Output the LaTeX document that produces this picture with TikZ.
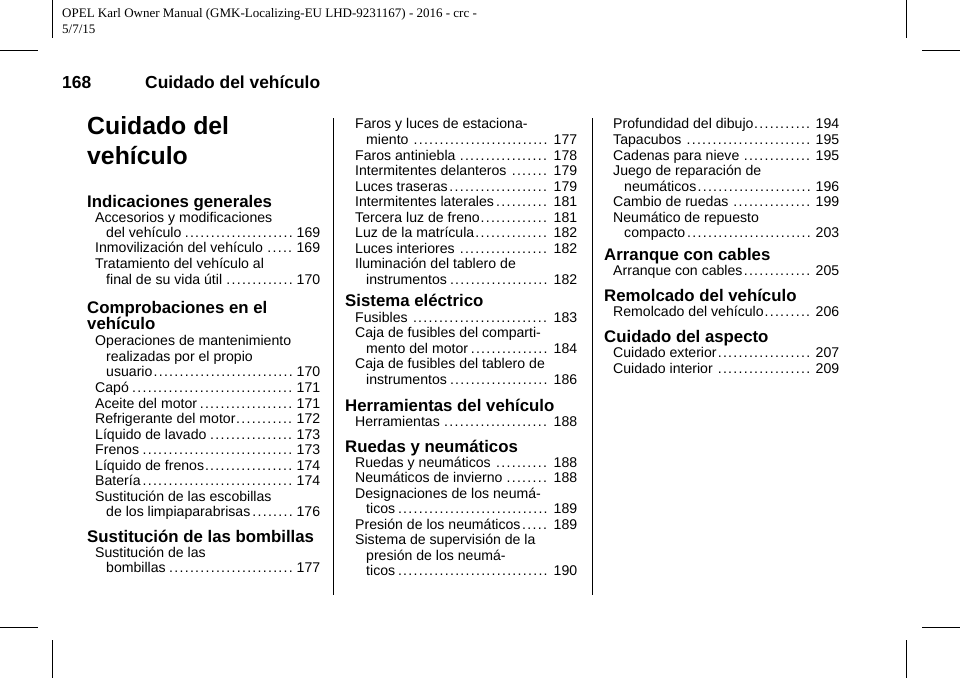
\documentclass[tikz,border=0pt]{standalone}
\usepackage{fontspec}
\setmainfont{Liberation Sans}
\newfontfamily\hdrfont{Liberation Serif}
\newcommand\tocdots{\leaders\hbox to 5.2pt{\hss.\hss}\hfill}
% one row: width, text, page
\newcommand\tocrow[3]{\edef\tocpg{#3}\hbox to #1pt{#2\ifx\tocpg\empty\hfill\else\tocdots\,\tocpg\fi}}
\tikzset{
  row/.style={anchor=base west, inner sep=0pt, font=\fontsize{14.1}{16}\selectfont},
  head/.style={anchor=base west, inner sep=0pt, font=\fontsize{16.8}{18}\selectfont\bfseries},
  crop/.style={line width=0.6pt}
}
\begin{document}
\begin{tikzpicture}[x=1pt,y=-1pt]
\useasboundingbox (0,0) rectangle (960,678);
% crop marks
\draw[crop] (52,0) -- (52,38) (0,50) -- (38,50);
\draw[crop] (906,0) -- (906,38) (922,50) -- (960,50);
\draw[crop] (52,640) -- (52,678) (0,627) -- (38,627);
\draw[crop] (906,640) -- (906,678) (922,627) -- (960,627);
% header
\node[anchor=base west, inner sep=0pt, font=\hdrfont\fontsize{13}{15}\selectfont] (hdra) at (62,17) {OPEL Karl Owner Manual (GMK-Localizing-EU LHD-9231167) - 2016 - crc -};
\node[anchor=base west, inner sep=0pt, font=\hdrfont\fontsize{13}{15}\selectfont] (hdrb) at (62,33) {5/7/15};
\node[anchor=base west, inner sep=0pt, font=\fontsize{17.4}{19}\selectfont\bfseries] (pagenum) at (62,88) {168};
\node[anchor=base west, inner sep=0pt, font=\fontsize{17.4}{19}\selectfont\bfseries] (section) at (145,88) {Cuidado del veh\'iculo};
\node[anchor=base west, inner sep=0pt, font=\fontsize{24.8}{28}\selectfont\bfseries] (titlea) at (87,134) {Cuidado del};
\node[anchor=base west, inner sep=0pt, font=\fontsize{24.8}{28}\selectfont\bfseries] (titleb) at (87,164) {veh\'iculo};
% column rules
\draw[line width=0.6pt] (333,118) -- (333,595) (592,118) -- (592,595);
% column 1
\node[head] (hA1) at (87,207) {Indicaciones generales};
\node[head] (hA2) at (87,313) {Comprobaciones en el};
\node[head] (hA3) at (87,329) {veh\'iculo};
\node[head] (hA4) at (87,542) {Sustituci\'on de las bombillas};
\foreach \y/\i/\t/\p in {
  217/0/Accesorios y modificaciones/, 232/1/del veh\'iculo/169,
  247/0/Inmovilizaci\'on del veh\'iculo/169, 263/0/Tratamiento del veh\'iculo al/,
  279/1/final de su vida \'util/170,
  340/0/Operaciones de mantenimiento/, 356/1/realizadas por el propio/,
  371/1/usuario/170, 387/0/Cap\'o/171, 403/0/Aceite del motor/171,
  418/0/Refrigerante del motor/172, 434/0/L\'iquido de lavado/173,
  449/0/Frenos/173, 465/0/L\'iquido de frenos/174, 480/0/Bater\'ia/174,
  496/0/Sustituci\'on de las escobillas/, 511/1/de los limpiaparabrisas/176,
  552/0/Sustituci\'on de las/, 567/1/bombillas/177}
  \node[row] at (95+11*\i,\y+5) {\tocrow{\numexpr 225-11*\i\relax}{\t}{\p}};
% column 2
\node[head] (hB1) at (345,306) {Sistema el\'ectrico};
\node[head] (hB2) at (345,411) {Herramientas del veh\'iculo};
\node[head] (hB3) at (345,452) {Ruedas y neum\'aticos};
\foreach \y/\i/\t/\p in {
  123/0/Faros y luces de estaciona-/, 139/1/miento/177,
  155/0/Faros antiniebla/178, 170/0/Intermitentes delanteros/179,
  186/0/Luces traseras/179, 201/0/Intermitentes laterales/181,
  217/0/Tercera luz de freno/181, 232/0/Luz de la matr\'icula/182,
  248/0/Luces interiores/182, 263/0/Iluminaci\'on del tablero de/,
  279/1/instrumentos/182,
  317/0/Fusibles/183, 332/0/Caja de fusibles del comparti-/,
  348/1/mento del motor/184, 363/0/Caja de fusibles del tablero de/,
  379/1/instrumentos/186,
  421/0/Herramientas/188,
  462/0/Ruedas y neum\'aticos/188, 477/0/Neum\'aticos de invierno/188,
  493/0/Designaciones de los neum\'a-/, 508/1/ticos/189,
  524/0/Presi\'on de los neum\'aticos/189, 539/0/Sistema de supervisi\'on de la/,
  555/1/presi\'on de los neum\'a-/, 570/1/ticos/190}
  \node[row] at (355+11*\i,\y+5) {\tocrow{\numexpr 222-11*\i\relax}{\t}{\p}};
% column 3
\node[head] (hC1) at (604,260) {Arranque con cables};
\node[head] (hC2) at (604,301) {Remolcado del veh\'iculo};
\node[head] (hC3) at (604,342) {Cuidado del aspecto};
\foreach \y/\i/\t/\p in {
  123/0/Profundidad del dibujo/194, 139/0/Tapacubos/195,
  155/0/Cadenas para nieve/195, 170/0/Juego de reparaci\'on de/,
  186/1/neum\'aticos/196, 201/0/Cambio de ruedas/199,
  217/0/Neum\'atico de repuesto/, 232/1/compacto/203,
  270/0/Arranque con cables/205,
  311/0/Remolcado del veh\'iculo/206,
  352/0/Cuidado exterior/207, 368/0/Cuidado interior/209}
  \node[row] at (613+11*\i,\y+5) {\tocrow{\numexpr 226-11*\i\relax}{\t}{\p}};
\end{tikzpicture}
\end{document}
